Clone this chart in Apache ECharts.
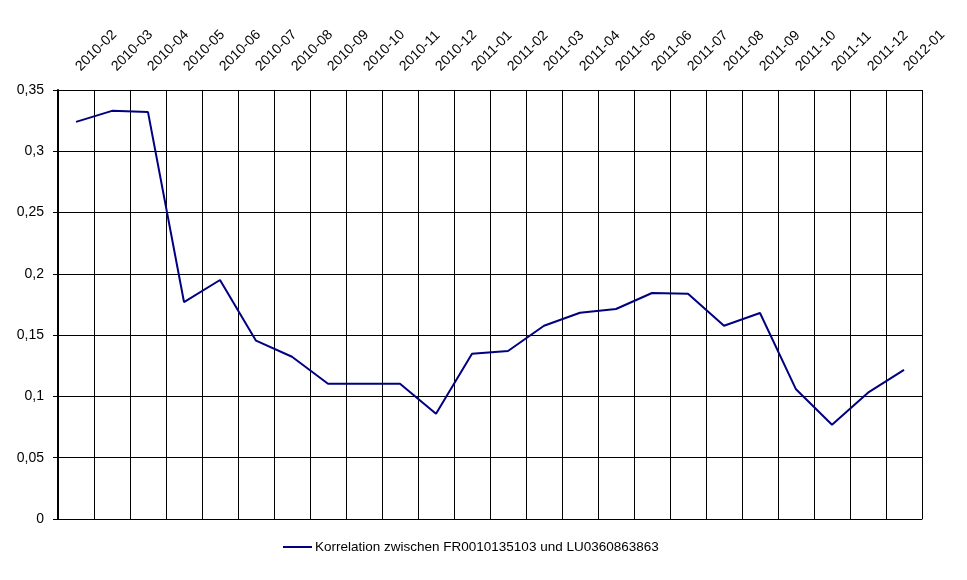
<!DOCTYPE html>
<html>
<head>
<meta charset="utf-8">
<script src="https://cdn.jsdelivr.net/npm/echarts@6/dist/echarts.min.js"></script>
<style>html,body{margin:0;padding:0;background:#fff;}#c{width:967px;height:580px;}</style>
</head>
<body>
<div id="c"></div>
<script>
var categories = ['2010-02','2010-03','2010-04','2010-05','2010-06','2010-07','2010-08','2010-09','2010-10','2010-11','2010-12','2011-01','2011-02','2011-03','2011-04','2011-05','2011-06','2011-07','2011-08','2011-09','2011-10','2011-11','2011-12','2012-01'];
var correlation = [0.324,0.333,0.332,0.177,0.195,0.1455,0.1324,0.1104,0.1104,0.1104,0.0859,0.1349,0.1371,0.1577,0.1683,0.1713,0.1844,0.1838,0.1577,0.1681,0.1058,0.0769,0.1031,0.1216];
var seriesName = 'Korrelation zwischen FR0010135103 und LU0360863863';
var yTicks = {min: 0, max: 0.35, interval: 0.05};

var font = '"Liberation Sans", Arial, sans-serif';
var chart = echarts.init(document.getElementById('c'), null, {renderer: 'canvas'});
chart.setOption({
  animation: false,
  backgroundColor: '#fff',
  grid: {left: 58, right: 45, top: 90, bottom: 61, containLabel: false},
  legend: {
    show: true,
    left: 278,
    top: 535,
    icon: 'rect',
    itemWidth: 29,
    itemHeight: 2,
    itemGap: 4,
    textStyle: {fontFamily: font, fontSize: 13.5, color: '#000', padding: [0,0,0,-2]},
    data: [seriesName]
  },
  xAxis: {
    type: 'category',
    position: 'top',
    data: categories,
    boundaryGap: true,
    axisLine: {show: true, lineStyle: {color: '#000', width: 1}},
    axisTick: {show: true, length: 5, inside: false, lineStyle: {color: '#000'}},
    axisLabel: {
      interval: 0, rotate: 45, margin: 19, padding: [0, 0, 0, 3],
      fontFamily: font, fontSize: 14, color: '#000'
    },
    splitLine: {show: true, lineStyle: {color: '#000', width: 1}}
  },
  yAxis: {
    type: 'value',
    min: yTicks.min, max: yTicks.max, interval: yTicks.interval,
    axisLine: {show: true, lineStyle: {color: '#000', width: 2}},
    axisTick: {show: true, length: 5, lineStyle: {color: '#000'}},
    axisLabel: {
      margin: 14, fontFamily: font, fontSize: 14, color: '#000',
      formatter: function (v) { return String(Math.round(v * 100) / 100).replace('.', ','); }
    },
    splitLine: {show: true, lineStyle: {color: '#000', width: 1}}
  },
  series: [{
    name: seriesName,
    type: 'line',
    data: correlation,
    symbol: 'none',
    lineStyle: {color: '#000080', width: 2},
    itemStyle: {color: '#000080'}
  }]
});
</script>
</body>
</html>
